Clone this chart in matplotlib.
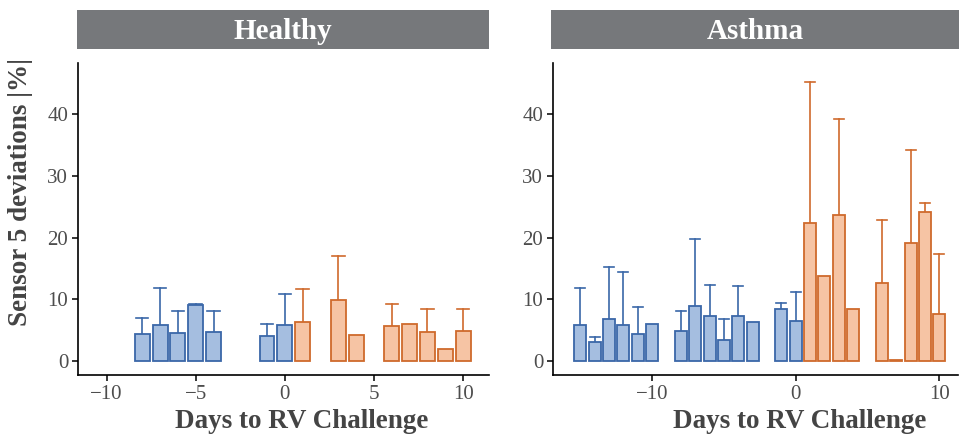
import matplotlib
matplotlib.use("Agg")
import matplotlib.pyplot as plt

# Healthy panel
healthy_days = [-8, -7, -6, -5, -4, -1, 0, 1, 3, 4, 6, 7, 8, 9, 10]
healthy_mean = [4.35, 5.8, 4.6, 9.1, 4.7, 4.1, 5.9, 6.4, 9.9, 4.25, 5.7, 6.0, 4.7, 2.0, 4.9]
healthy_upper = [7.0, 11.8, 8.2, 9.2, 8.1, 6.1, 10.9, 11.7, 17.0, None, 9.35, None, 8.5, None, 8.5]
healthy_phase = ["pre"] * 7 + ["post"] * 8

# Asthma panel
asthma_days = [-15, -14, -13, -12, -11, -10, -8, -7, -6, -5, -4, -3, -1, 0,
               1, 2, 3, 4, 6, 7, 8, 9, 10]
asthma_mean = [5.8, 3.1, 6.9, 5.9, 4.4, 6.1, 4.9, 8.9, 7.3, 3.5, 7.3, 6.3, 8.4, 6.5,
               22.3, 13.8, 23.6, 8.5, 12.7, 0.2, 19.2, 24.1, 7.7]
asthma_upper = [11.8, 3.9, 15.2, 14.5, 8.8, None, 8.1, 19.7, 12.3, 6.9, 12.2, None, 9.4, 11.2,
                45.1, None, 39.2, None, 22.8, None, 34.2, 25.6, 17.3]
asthma_phase = ["pre"] * 14 + ["post"] * 9

fills = {"pre": "#a5bee0", "post": "#f6c4a4"}
edges = {"pre": "#3a67a8", "post": "#cf6a2c"}

plt.rcParams["font.family"] = "Liberation Serif"

fig = plt.figure(figsize=(9.61, 4.37), dpi=100)
W, H = 961, 437


def add_box(x0, y0, x1, y1):
    return fig.add_axes([x0 / W, 1 - y1 / H, (x1 - x0) / W, (y1 - y0) / H])


def panel(ax, strip, title, days, mean, upper, phase, xlim, xticks, xlab_x):
    for d, m, u, p in zip(days, mean, upper, phase):
        ax.bar(d, m, width=0.84, color=fills[p], edgecolor=edges[p], linewidth=1.3, zorder=2)
        if u is not None:
            ax.plot([d, d], [m, u], color=edges[p], linewidth=1.2, zorder=1)
            ax.plot([d - 0.35, d + 0.35], [u, u], color=edges[p], linewidth=1.2, zorder=1)
    ax.set_xlim(*xlim)
    ax.set_ylim(-2.2, 48.2)
    ax.set_yticks([0, 10, 20, 30, 40])
    ax.set_xticks(xticks)
    ax.set_xticklabels([str(t).replace("-", "\u2212") for t in xticks])
    for s in ["top", "right"]:
        ax.spines[s].set_visible(False)
    for s in ["left", "bottom"]:
        ax.spines[s].set_linewidth(1.2)
    ax.tick_params(labelsize=15, colors="#4d4d4d", length=4, width=1.1, pad=3)
    ax.tick_params(color="black")
    ax.set_xlabel("Days to RV Challenge", fontsize=19.5, fontweight="bold", color="#444444")
    ax.xaxis.set_label_coords(xlab_x, -0.108)

    strip.set_facecolor("#76787b")
    strip.set_xticks([])
    strip.set_yticks([])
    for s in strip.spines.values():
        s.set_visible(False)
    strip.text(0.5, 0.45, title, ha="center", va="center", color="white",
               fontsize=21, fontweight="bold", transform=strip.transAxes)


ax1 = add_box(78, 63, 489, 375)
st1 = add_box(77, 10, 489, 49)
panel(ax1, st1, "Healthy", healthy_days, healthy_mean, healthy_upper, healthy_phase,
      (-11.6, 11.45), [-10, -5, 0, 5, 10], 0.544)
ax1.set_ylabel("Sensor 5 deviations |%|", fontsize=19.5, fontweight="bold", color="#444444")
ax1.yaxis.set_label_coords(-0.11, 0.585)

ax2 = add_box(553, 63, 958, 375)
st2 = add_box(551, 10, 959, 49)
panel(ax2, st2, "Asthma", asthma_days, asthma_mean, asthma_upper, asthma_phase,
      (-16.9, 11.3), [-10, 0, 10], 0.61)

fig.savefig("out.png", dpi=100)
